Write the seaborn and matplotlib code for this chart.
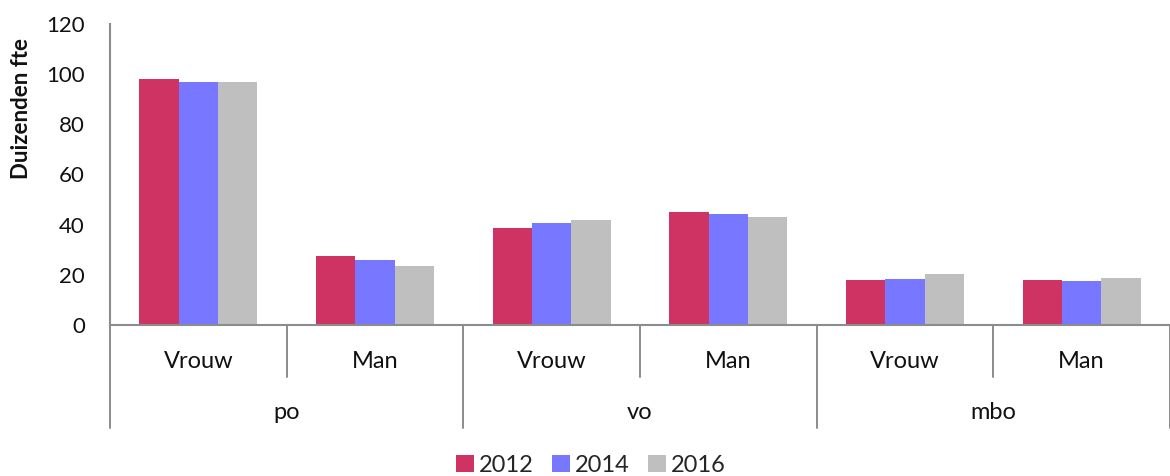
import matplotlib

matplotlib.use("Agg")

import matplotlib.pyplot as plt
import matplotlib.transforms as mtransforms
import pandas as pd
import seaborn as sns

sectors = ["po", "vo", "mbo"]
genders = ["Vrouw", "Man"]
years = ["2012", "2014", "2016"]
values_2012 = [98.0, 27.6, 38.6, 45.0, 18.0, 17.9]
values_2014 = [96.9, 25.8, 40.6, 44.2, 18.5, 17.7]
values_2016 = [96.9, 23.5, 41.8, 43.2, 20.5, 18.7]
colors = ["#CF3363", "#7777FF", "#BFBFBF"]
axis_color = "#8C8C8C"

categories = [f"{s}|{g}" for s in sectors for g in genders]
df = pd.DataFrame({
    "category": categories * 3,
    "year": [y for y in years for _ in categories],
    "value": values_2012 + values_2014 + values_2016,
})

sns.set_theme(style="white")
plt.rcParams["font.family"] = ["Lato", "DejaVu Sans"]

fig = plt.figure(figsize=(11.7, 4.76), dpi=100)
ax = fig.add_axes([110 / 1170, 1 - 325 / 476, 1060 / 1170, 301 / 476])

sns.barplot(
    data=df, x="category", y="value", hue="year", order=categories,
    hue_order=years, palette=colors, width=0.667, gap=0,
    saturation=1, linewidth=0, ax=ax, legend=True,
)

ax.set_xlim(-0.5, 5.5)
ax.set_ylim(0, 120)
ax.set_yticks(range(0, 121, 20))
ax.tick_params(axis="y", length=0, pad=18, labelsize=16, labelcolor="#111111")
ax.set_xticks([])
ax.set_xlabel("")
ax.set_ylabel("Duizenden fte", fontsize=16, fontweight="bold", color="#111111")
ax.yaxis.set_label_coords(-0.0736, 0.718)

for side in ["top", "right"]:
    ax.spines[side].set_visible(False)
for side in ["left", "bottom"]:
    ax.spines[side].set_color(axis_color)
    ax.spines[side].set_linewidth(1.5)

trans = mtransforms.blended_transform_factory(ax.transData, ax.transAxes)

# inner level: gender labels and separators
for i, cat in enumerate(categories):
    ax.text(i, -0.12, cat.split("|")[1], transform=trans, ha="center",
            va="center", fontsize=17, color="#111111")
for x in [0.5, 2.5, 4.5]:
    ax.plot([x, x], [0, -0.173], transform=trans, color=axis_color,
            lw=1.4, clip_on=False)

# outer level: sector labels and separators
for j, sector in enumerate(sectors):
    ax.text(2 * j + 0.5, -0.292, sector, transform=trans, ha="center",
            va="center", fontsize=17, color="#111111")
for x in [-0.5, 1.5, 3.5, 5.5]:
    ax.plot([x, x], [0, -0.342], transform=trans, color=axis_color,
            lw=1.4, clip_on=False)

handles, labels = ax.get_legend_handles_labels()
ax.legend_.remove()
fig.legend(handles, labels, loc="center", bbox_to_anchor=(591 / 1170, 1 - 465 / 476),
           ncol=3, frameon=False, fontsize=17, handlelength=0.75, handleheight=0.75,
           handletextpad=0.2, columnspacing=0.8)

fig.savefig("out.png", dpi=100)
